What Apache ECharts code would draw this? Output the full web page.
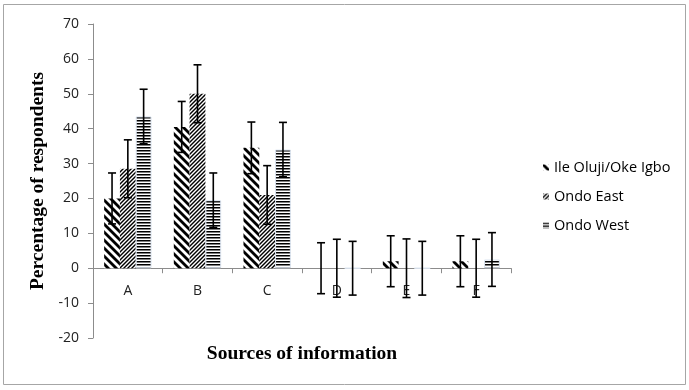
<!DOCTYPE html>
<html><head><meta charset="utf-8">
<script src="https://cdn.jsdelivr.net/npm/echarts@6/dist/echarts.min.js"></script>
<style>html,body{margin:0;padding:0;background:#fff}#c{width:689px;height:390px}</style>
</head><body><div id="c"></div>
<script>
var categories = ['A','B','C','D','E','F'];
var seriesNames = ['Ile Oluji/Oke Igbo','Ondo East','Ondo West'];
var ileOluji = [20, 40.5, 34.5, 0, 2, 2];
var ondoEast = [28.5, 50, 21, 0, 0, 0];
var ondoWest = [43.5, 19.5, 34, 0, 0, 2.5];
var errIle = [7.3, 7.3, 7.4, 7.3, 7.3, 7.3];
var errEast = [8.3, 8.3, 8.4, 8.3, 8.4, 8.3];
var errWest = [7.8, 7.8, 7.8, 7.7, 7.7, 7.7];
var yTicks = [-20,-10,0,10,20,30,40,50,60,70];

function pat(kind){
  var c = document.createElement('canvas');
  var ctx;
  if(kind===0){
    c.width=8;c.height=8;ctx=c.getContext('2d');
    ctx.fillStyle='#fff';ctx.fillRect(0,0,8,8);
    ctx.strokeStyle='#000';ctx.lineWidth=2.8;
    for(var k=-8;k<=8;k+=8){ctx.beginPath();ctx.moveTo(k-1,-1);ctx.lineTo(k+9,9);ctx.stroke();}
  } else if(kind===1){
    c.width=4;c.height=4;ctx=c.getContext('2d');
    ctx.fillStyle='#fff';ctx.fillRect(0,0,4,4);
    ctx.strokeStyle='#000';ctx.lineWidth=1.4;
    for(var k=-4;k<=8;k+=4){ctx.beginPath();ctx.moveTo(k-1,5);ctx.lineTo(k+5,-1);ctx.stroke();}
  } else {
    c.width=4;c.height=3;ctx=c.getContext('2d');
    ctx.fillStyle='#fff';ctx.fillRect(0,0,4,3);
    ctx.fillStyle='#000';ctx.fillRect(0,0,4,1.5);
  }
  return {image:c, repeat:'repeat'};
}
var values = [ileOluji, ondoEast, ondoWest];
var errs = [errIle, errEast, errWest];
var catGap = 0.32;
var series = [];
for (var s=0;s<3;s++){
  series.push({name:seriesNames[s], type:'bar', data:values[s], barGap:'0%', barCategoryGap:(catGap*100)+'%',
    itemStyle:{color:pat(s), borderColor: s===2?'#dbe4f0':'transparent', borderWidth: s===2?1:0}});
}
for (var s2=0;s2<3;s2++){
  (function(si){
    var d = values[si].map(function(v,i){return [i, v-errs[si][i], v+errs[si][i]];});
    series.push({type:'custom', name:'err'+si, data:d, z:5,
      renderItem:function(params, api){
        var i = api.value(0);
        var band = api.size([1,0])[0];
        var bw = band*(1-catGap)/3;
        var x = api.coord([i,0])[0] + (si-1)*bw;
        var y1 = api.coord([i, api.value(1)])[1];
        var y2 = api.coord([i, api.value(2)])[1];
        var cw = 4;
        var st = {stroke:'#000', lineWidth:1.6};
        return {type:'group', children:[
          {type:'line', shape:{x1:x,y1:y1,x2:x,y2:y2}, style:st},
          {type:'line', shape:{x1:x-cw,y1:y1,x2:x+cw,y2:y1}, style:st},
          {type:'line', shape:{x1:x-cw,y1:y2,x2:x+cw,y2:y2}, style:st}
        ]};
      }
    });
  })(s2);
}
var chart = echarts.init(document.getElementById('c'), null, {renderer:'canvas'});
chart.setOption({
  animation:false,
  backgroundColor:'#fff',
  graphic:[{type:'rect', shape:{x:3.5,y:4.5,width:682,height:380}, style:{fill:'none', stroke:'#a6a6a6', lineWidth:1}}],
  grid:{left:93, right:178, top:24, bottom:52, containLabel:false, outerBoundsMode:'none'},
  legend:{orient:'vertical', left:538, top:155, itemGap:14, itemWidth:6, itemHeight:6, icon:'rect',
    data:seriesNames, textStyle:{fontFamily:'Open Sans', fontSize:14.5, color:'#000'}, itemStyle:{borderWidth:0}},
  xAxis:{type:'category', data:categories,
    axisLine:{onZero:true, lineStyle:{color:'#8c8c8c', width:1}},
    axisTick:{show:true, length:5, lineStyle:{color:'#8c8c8c'}},
    axisLabel:{margin:-54, fontFamily:'Open Sans', fontSize:14, color:'#222'},
    name:'Sources of information', nameLocation:'middle', nameGap:6,
    nameTextStyle:{fontFamily:'Liberation Serif', fontWeight:'bold', fontSize:19.5, color:'#000'}
  },
  yAxis:{type:'value', min:-20, max:70, interval:10,
    axisLine:{show:true, lineStyle:{color:'#8c8c8c'}},
    axisTick:{show:true, length:5, lineStyle:{color:'#8c8c8c'}},
    splitLine:{show:false},
    axisLabel:{margin:14, fontFamily:'Open Sans', fontSize:14, color:'#222'},
    name:'Percentage of respondents', nameLocation:'middle', nameGap:38, nameRotate:90,
    nameTextStyle:{fontFamily:'Liberation Serif', fontWeight:'bold', fontSize:19.5, color:'#000'}
  },
  series:series
});
</script></body></html>
